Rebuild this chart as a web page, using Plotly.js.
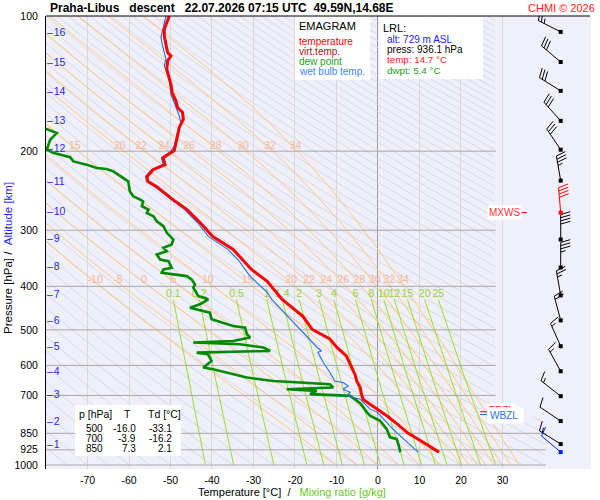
<!DOCTYPE html>
<html><head><meta charset="utf-8">
<script src="https://cdn.plot.ly/plotly-3.0.1.min.js"></script>
<style>body{margin:0;background:#fff}</style>
</head><body><div id="chart" style="width:600px;height:500px"></div>
<script>
// ---------------- DATA ----------------
const tempP = [100,102.6,107.0,110.8,116.6,120.6,122.7,125.9,131.4,137.1,141.9,148.1,154.5,159.9,164.0,169.7,177.1,184.8,192.8,199.5,206.8,214.3,219.9,228.0,233.8,239.9,256.4,269.9,288.4,309.8,331.0,366.8,390.0,427.6,466.5,498.4,524.0,547.0,572.0,605.0,630.0,651.0,671.0,700.0,714.0,724.0,751.0,778.0,810.0,850.0,875.0,931.0,936.1];
const tempT = [-50.3,-50.7,-51.5,-51.5,-51.1,-50.7,-49.9,-50.7,-50.9,-50.3,-49.9,-49.6,-48.7,-48.3,-47.1,-46.9,-47.9,-48.3,-48.7,-49.1,-51.8,-51.3,-54.2,-55.7,-55.4,-53.3,-49.4,-46.0,-42.9,-39.8,-34.9,-30.5,-26.7,-23.1,-18.1,-15.9,-11.6,-9.9,-7.6,-6.4,-5.5,-5.1,-4.3,-3.9,-3.6,-2.7,-0.2,2.2,4.6,7.3,9.6,14.5,14.7];

const wetP = [100,107.0,111.7,116.6,124.8,129.1,138.2,149.2,155.9,166.8,172.6,181.8,194.5,200,207,214,220,228,234,240,256,270,288,310,331,350,380,412.6,427.6,454.8,481,524.8,546.7,557.2,561,590.3,621.5,650.8,655.1,666.6,678,688.5,701.5,713.4,750.9,762.4,831.8,888.9,930.9,936.1];
const wetT = [-51.1,-51.9,-52.3,-51.9,-51.1,-51.5,-50.3,-49.9,-49.1,-47.9,-47.5,-48.3,-49.1,-49.9,-52.2,-51.8,-54.6,-56.0,-55.8,-53.8,-49.9,-46.6,-43.6,-40.8,-36.2,-33.6,-30.8,-26.7,-25.6,-22.9,-20.4,-16.4,-14.7,-13.6,-14.5,-13.2,-11.6,-10.4,-8.4,-7.2,-8.4,-6.7,-7.5,-4.3,-1.9,-0.2,3.6,7.0,9.6,9.7];

const dewP = [175.5,182.3,188.6,198.5,201.6,206.3,210.8,214.3,218.0,219.1,221.8,229.5,233.5,245.7,252.1,256.4,258.6,265.3,269.9,274.4,279.3,286.5,293.9,304.0,314.6,322.8,328.3,334.1,339.8,348.6,351.6,363.7,366.8,373.1,376.3,379.6,386.0,396.1,402.8,413.2,420.5,427.6,438.7,446.3,454.1,457.8,473.8,481.8,490.2,494.3,511.5,520.2,529.3,533.7,538.3,547.5,557.2,558.0,561.9,566.7,586.5,606.7,611.9,638.5,649.8,655.1,660.7,672.0,677.9,683.8,695.4,701.5,728.2,762.4,776.9,797.2,831.8,867.8,875.5,898.2,936.1];
const dewT = [-82.0,-77.4,-79.0,-79.8,-78.3,-74.2,-73.4,-70.2,-67.8,-65.4,-63.8,-61.4,-60.2,-59.8,-59.0,-57.3,-56.6,-56.9,-55.3,-55.7,-54.1,-53.3,-51.7,-50.9,-49.3,-49.7,-51.7,-50.9,-53.3,-52.5,-50.5,-49.7,-51.7,-52.1,-49.3,-46.1,-44.9,-44.1,-44.5,-43.7,-43.3,-40.9,-42.9,-45.3,-42.1,-40.5,-40.1,-37.7,-34.9,-32.0,-31.6,-30.8,-34.9,-44.5,-33.3,-27.6,-26.0,-30.0,-43.7,-41.0,-40.1,-42.1,-39.7,-31.6,-25.2,-18.8,-11.6,-10.8,-22.0,-14.8,-16.4,-6.7,-4.3,-2.7,-1.9,0.5,2.1,2.9,4.5,4.9,5.4];

const altKm = [1,2,3,4,5,6,7,8,9,10,11,12,13,14,15,16];
const altP  = [903,802,699,621.5,546.7,478.6,419,363,314.7,274,235,198.5,172,148.3,127.2,109.1];

const windP   = [108.5,126.6,146.8,171.2,198.5,232.6,274.1,314.6,363.1,419,476.3,543.9,618.3,702.6,798.3,898.2,936.1];
const windDir = [297,310,302,318,326,350,355,360,360,350,345,336,331,308,304,302,310];
const windSpd = [25,30,30,30,30,35,40,40,35,25,20,15,15,15,10,15,10];

const mixRatios = [0.1,0.2,0.5,1,1.4,2,3,4,6,8,10,12,15,20,25];
const moistThetaW = [-10,-5,0,5,10,15,20,22,24,26,28,30,32,34];
const moistLabels200 = [15,20,22,24,26,28,30,32,34];
const moistLabels400 = [-10,-5,0,5,10,15,20,22,24,26,28,30,32,34];

const tempTicks = [-70,-60,-50,-40,-30,-20,-10,0,10,20,30];
const presTicks = [100,200,300,400,500,600,700,850,925,1000];

const tableP  = [500,700,850];
const tableT  = [-16.0,-3.9,7.3];
const tableTd = [-33.1,-16.2,2.1];

const lrlAlt = 729, lrlPress = 936.1, lrlTemp = 14.7, lrlDwpt = 5.4;
const fzlP = 761, wbzlP = 772, mxwsP = 274.1;

// ---------------- GEOMETRY ----------------
const FONT = 'Liberation Sans, Arial, Helvetica, sans-serif';
const W = 600, H = 500, ML = 46, MR = 9, MT = 16, MB = 31;
const plotW = W - ML - MR, plotH = H - MT - MB;
const xMin = -80, xMax = 51.33, yTop = 2, yBot = 3.0089;
const pxPerDeg = plotW / (xMax - xMin);
const pxPerDec = plotH / (yBot - yTop);
const paperX = x => (x - ML) / plotW;
const paperY = y => 1 - (y - MT) / plotH;
const tFromPx = x => xMin + (x - ML) / pxPerDeg;

const KAPPA = 0.2857, RD = 287.04749, CPD = 1005.7, LV = 2.501e6, EPS = 0.621957;
const es = Tk => 6.112 * Math.exp(17.67 * (Tk - 273.15) / (Tk - 29.65));
function interpT(ps, ts, p) {
  for (let i = 0; i < ps.length - 1; i++) {
    const a = ps[i], b = ps[i + 1];
    if ((p <= a && p >= b) || (p >= a && p <= b)) {
      const f = (Math.log(p) - Math.log(a)) / (Math.log(b) - Math.log(a));
      return ts[i] + f * (ts[i + 1] - ts[i]);
    }
  }
  return null;
}

const traces = [];

// ---- dry adiabats (grid) ----
const dryX = [], dryY = [];
const NS = 450;
for (let th = -80; th <= 320; th += 5) {
  const thK = th + 273.15; let open = false;
  for (let k = 0; k <= NS; k++) {
    const p = 1000 * Math.pow(10, -k / NS);
    const t = thK * Math.pow(p / 1000, KAPPA) - 273.15;
    const tmax = p >= 780 ? 40.5 : 28.4;
    if (t <= tmax && t >= -83) { dryX.push(t); dryY.push(p); open = true; }
    else if (open) { dryX.push(null); dryY.push(null); open = false; }
  }
  if (open) { dryX.push(null); dryY.push(null); }
}
traces.push({x: dryX, y: dryY, mode: 'lines', line: {color: '#d9d9e1', width: 1}, hoverinfo: 'skip'});

// ---- moist adiabats ----
function moistLapse(p, T) {
  const e = es(T); const rs = EPS * e / (p - e);
  return (1 / p) * (RD * T + LV * rs) / (CPD + LV * LV * rs * EPS / (RD * T * T));
}
const moistLines = {};
const mX = [], mY = [];
moistThetaW.forEach(tw => {
  let T = tw + 273.15, p = 1000; const ps = [p], ts = [tw];
  for (let k = 1; k <= NS; k++) {
    const pn = 1000 * Math.pow(10, -k / NS); const h = pn - p;
    const k1 = moistLapse(p, T), k2 = moistLapse(p + h / 2, T + h / 2 * k1);
    const k3 = moistLapse(p + h / 2, T + h / 2 * k2), k4 = moistLapse(pn, T + h * k3);
    T += h / 6 * (k1 + 2 * k2 + 2 * k3 + k4); p = pn;
    ps.push(p); ts.push(T - 273.15);
  }
  moistLines[tw] = {ps, ts};
  for (let i = 0; i < ps.length; i++) { if (ts[i] >= -85) { mX.push(ts[i]); mY.push(ps[i]); } }
  mX.push(null); mY.push(null);
});
traces.push({x: mX, y: mY, mode: 'lines', line: {color: '#ffc67e', width: 1}, hoverinfo: 'skip'});

// ---- mixing ratio lines ----
const mixTop = 428, mixLabelP = 416;
const wX = [], wY = [], wlX = [], wlY = [], wlT = [];
mixRatios.forEach(w => {
  const r = w / 1000;
  for (let k = 0; k <= 100; k++) {
    const p = 1000 * Math.pow(mixTop / 1000, k / 100);
    const e = p * r / (EPS + r); const l = Math.log(e / 6.112);
    wX.push(243.5 * l / (17.67 - l)); wY.push(p);
  }
  wX.push(null); wY.push(null);
  const e = mixTop * r / (EPS + r); const l = Math.log(e / 6.112);
  wlX.push(243.5 * l / (17.67 - l)); wlY.push(mixLabelP); wlT.push(String(w));
});
traces.push({x: wX, y: wY, mode: 'lines', line: {color: '#9edc2c', width: 1}, hoverinfo: 'skip'});

// ---- pressure lines ----
const plX = [], plY = [];
presTicks.filter(p => p > 100).forEach(p => {
  plX.push(xMin, p >= 800 ? 40.5 : 28.4, null); plY.push(p, p, null);
});
traces.push({x: plX, y: plY, mode: 'lines', line: {color: '#a8a8a8', width: 1}, hoverinfo: 'skip'});

// ---- labels of moist adiabats and mixing ratios ----
const lab200P = 194.8, lab400P = 387.6, labShift = 3 / pxPerDeg;
const olX = [], olY = [], olT = [];
moistLabels200.forEach(v => { olX.push(interpT(moistLines[v].ps, moistLines[v].ts, lab200P) + labShift); olY.push(lab200P); olT.push(String(v)); });
moistLabels400.forEach(v => { olX.push(interpT(moistLines[v].ps, moistLines[v].ts, lab400P) + labShift); olY.push(lab400P); olT.push(String(v)); });
traces.push({x: olX, y: olY, text: olT, mode: 'text', textposition: 'middle center', cliponaxis: false,
  textfont: {family: FONT, size: 10.5, color: '#f8b496'}, hoverinfo: 'skip'});
traces.push({x: wlX, y: wlY, text: wlT, mode: 'text', textposition: 'middle center', cliponaxis: false,
  textfont: {family: FONT, size: 10.5, color: '#99d033'}, hoverinfo: 'skip'});

// ---- altitude labels ----
traces.push({x: altKm.map(() => tFromPx(47)), y: altP, text: altKm.map(k => '\u2013\u200a' + k), mode: 'text',
  textposition: 'middle right', cliponaxis: false, textfont: {family: FONT, size: 10.5, color: '#2626ee'}, hoverinfo: 'skip'});

// ---- profiles ----
traces.push({x: dewT, y: dewP, mode: 'lines', line: {color: '#008a00', width: 2.6}, hoverinfo: 'skip'});
traces.push({x: wetT, y: wetP, mode: 'lines', line: {color: '#1f6fe5', width: 1.1}, hoverinfo: 'skip'});
traces.push({x: tempT, y: tempP, mode: 'lines', line: {color: '#ff0000', width: 3}, hoverinfo: 'skip'});

// ---- wind barbs ----
const barbBaseT = tFromPx(560.7);
const staffLen = 25, featherLen = 10, featherGap = 3.2;
const groups = {black: {x: [], y: []}, red: {x: [], y: []}, blue: {x: [], y: []}};
const dotX = [], dotY = [], dotC = [];
windP.forEach((p0, i) => {
  const col = (p0 === mxwsP) ? 'red' : (i === windP.length - 1 ? 'blue' : 'black');
  const g = groups[col];
  const d = windDir[i] * Math.PI / 180;
  const ux = Math.sin(d), uy = Math.cos(d);
  const px = uy, py = -ux; // clockwise perpendicular
  const toX = dx => barbBaseT + dx / pxPerDeg;
  const toP = dy => p0 * Math.pow(10, -dy / pxPerDec);
  const seg = (ax, ay, bx, by) => { g.x.push(toX(ax), toX(bx), null); g.y.push(toP(ay), toP(by), null); };
  const tx = staffLen * ux, ty = staffLen * uy;
  seg(0, 0, tx, ty);
  const nFull = Math.floor(windSpd[i] / 10), half = (windSpd[i] % 10) >= 5;
  let pos = 0;
  const fdx = px * 0.96 + ux * 0.28, fdy = py * 0.96 + uy * 0.28;
  for (let f = 0; f < nFull; f++) {
    const sx = tx - pos * ux, sy = ty - pos * uy;
    seg(sx, sy, sx + featherLen * fdx, sy + featherLen * fdy); pos += featherGap;
  }
  if (half) {
    if (nFull === 0) pos += featherGap;
    const sx = tx - pos * ux, sy = ty - pos * uy;
    seg(sx, sy, sx + featherLen / 2 * fdx, sy + featherLen / 2 * fdy);
  }
  dotX.push(barbBaseT); dotY.push(p0); dotC.push(col === 'black' ? '#000' : (col === 'red' ? '#ff0000' : '#0022ff'));
});
traces.push({x: groups.black.x, y: groups.black.y, mode: 'lines', line: {color: '#000', width: 1}, hoverinfo: 'skip'});
traces.push({x: groups.red.x, y: groups.red.y, mode: 'lines', line: {color: '#ff0000', width: 1}, hoverinfo: 'skip'});
traces.push({x: groups.blue.x, y: groups.blue.y, mode: 'lines', line: {color: '#0022ff', width: 1}, hoverinfo: 'skip'});
traces.push({x: dotX, y: dotY, mode: 'markers', marker: {symbol: 'square', size: 4, color: dotC}, hoverinfo: 'skip'});

// level markers (dashes)
traces.push({x: [tFromPx(520), tFromPx(527)], y: [mxwsP, mxwsP], mode: 'lines', line: {color: '#ff0000', width: 1}, hoverinfo: 'skip'});
traces.push({x: [tFromPx(480), tFromPx(487)], y: [fzlP, fzlP], mode: 'lines', line: {color: '#ff0000', width: 1}, hoverinfo: 'skip'});
traces.push({x: [tFromPx(480), tFromPx(487)], y: [wbzlP, wbzlP], mode: 'lines', line: {color: '#1f6fe5', width: 1}, hoverinfo: 'skip'});

// ---------------- ANNOTATIONS ----------------
const N = '\u00A0';
function note(xpx, ypx, text, size, color, anchor, extra) {
  return Object.assign({xref: 'paper', yref: 'paper', x: paperX(xpx), y: paperY(ypx), xanchor: anchor || 'left', yanchor: 'middle',
    text: text, showarrow: false, borderpad: 0, font: {family: FONT, size: size, color: color}}, extra || {});
}
const anns = [];
anns.push(note(49, 7.5, '<b>Praha-Libus' + N+N+N + 'descent' + N+N+N + '22.07.2026 07:15 UTC' + N+N + '49.59N,14.68E</b>', 12, '#000'));
anns.push(note(596, 7.5, 'CHMI © 2026', 11, '#ff2020', 'right'));
// EMAGRAM legend
anns.push(note(297.5, 26, 'EMAGRAM', 11, '#000'));
anns.push(note(297.5, 42, 'temperature', 10, '#ff0000'));
anns.push(note(297.5, 52, 'virt.temp.', 10, '#a01818'));
anns.push(note(297.5, 62, 'dew point', 10, '#1c9c1c'));
anns.push(note(297.5, 72, 'wet bulb temp.', 10, '#3a86ff'));
// LRL box
anns.push(note(381.5, 27.5, 'LRL:', 11, '#000'));
anns.push(note(386, 39, 'alt: ' + lrlAlt + ' m ASL', 10, '#1a1aff'));
anns.push(note(386, 49.5, 'press: ' + lrlPress.toFixed(1) + ' hPa', 10, '#000'));
anns.push(note(386, 59.5, 'temp: ' + lrlTemp.toFixed(1) + ' °C', 9.8, '#ff1a1a'));
anns.push(note(386, 70.5, 'dwpt: ' + lrlDwpt.toFixed(1) + ' °C', 9.8, '#1c9c1c'));
// table
anns.push(note(78, 413.5, 'p [hPa]', 10.5, '#000'));
anns.push(note(127.5, 413.5, 'T', 10.5, '#000', 'center'));
anns.push(note(146.5, 413.5, 'Td [°C]', 10.5, '#000'));
tableP.forEach((p, i) => {
  const y = 428.3 + i * 10.2;
  anns.push(note(103.5, y, String(p), 10, '#000', 'right'));
  anns.push(note(137, y, tableT[i].toFixed(1), 10, '#000', 'right'));
  anns.push(note(172.5, y, tableTd[i].toFixed(1), 10, '#000', 'right'));
});
// axis titles
anns.push(note(197, 492.5, 'Temperature [°C]' + N+N + '/' + N+N+N + '<span style="color:#66c81e">Mixing ratio [g/kg]</span>', 11, '#000'));
anns.push(note(8, 258, 'Pressure [hPa]' + N + '/' + N+N + '<span style="color:#2626ee">Altitude [km]</span>', 11.5, '#000', 'center', {textangle: -90}));
// level labels
anns.push({xref: 'paper', yref: 'y', x: paperX(487), y: Math.log10(mxwsP), xanchor: 'left', yanchor: 'middle', text: 'MXWS',
  showarrow: false, bgcolor: '#ffffff', borderpad: 1, font: {family: FONT, size: 10, color: '#ff3030'}});
anns.push({xref: 'paper', yref: 'y', x: paperX(487), y: Math.log10(fzlP), yshift: 1, xanchor: 'left', yanchor: 'middle', text: 'FRZL',
  showarrow: false, bgcolor: '#ffffff', borderpad: 1, font: {family: FONT, size: 10, color: '#ff2020'}});
anns.push({xref: 'paper', yref: 'y', x: paperX(487), y: Math.log10(wbzlP), yshift: -1, xanchor: 'left', yanchor: 'middle', text: 'WBZL' + N,
  showarrow: false, bgcolor: '#ffffff', borderpad: 2, font: {family: FONT, size: 10, color: '#2a72e6'}});

// white boxes and frame
const box = (x0, y0, x1, y1) => ({type: 'rect', xref: 'paper', yref: 'paper', x0: paperX(x0), x1: paperX(x1), y0: paperY(y1), y1: paperY(y0),
  fillcolor: '#ffffff', line: {width: 0}, layer: 'above'});
const shapes = [
  box(295, 16.5, 370, 80),
  box(379.5, 17, 483, 79),
  box(75, 405, 181, 456),
  {type: 'line', xref: 'paper', yref: 'paper', x0: 0, x1: paperX(590), y0: 1, y1: 1, line: {color: '#000', width: 1}, layer: 'above'}
];

const layout = {
  width: W, height: H, margin: {l: ML, r: MR, t: MT, b: MB, pad: 0},
  paper_bgcolor: '#ffffff', plot_bgcolor: '#f0f0fb', showlegend: false,
  xaxis: {range: [xMin, xMax], tickvals: tempTicks, ticktext: tempTicks.map(String), showgrid: true, gridcolor: '#d9d9d9', gridwidth: 1,
    zeroline: true, zerolinecolor: '#9a9a9a', zerolinewidth: 1, showline: false, ticks: '', ticklabelstandoff: 3,
    tickfont: {family: FONT, size: 10.5, color: '#000'}, fixedrange: true},
  yaxis: {type: 'log', range: [yBot, yTop], tickvals: presTicks, ticktext: presTicks.map(String), showgrid: false, zeroline: false,
    showline: true, linecolor: '#000', linewidth: 1, ticks: '', ticklabelstandoff: 5,
    tickfont: {family: FONT, size: 10.5, color: '#000'}, fixedrange: true},
  annotations: anns, shapes: shapes
};
Plotly.newPlot('chart', traces, layout, {staticPlot: true, displayModeBar: false});
</script></body></html>
